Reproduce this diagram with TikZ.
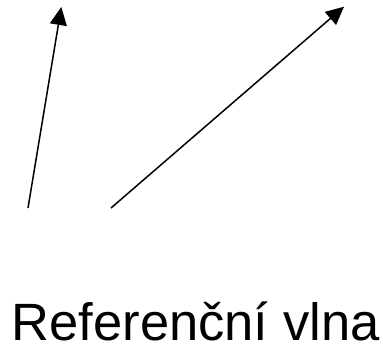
\documentclass[tikz,border=0pt]{standalone}
\usepackage{fontspec}
\setmainfont{Liberation Sans}
\usetikzlibrary{arrows.meta}
\begin{document}
\begin{tikzpicture}[x=1pt,y=-1pt,
  vec/.style={line width=1.5pt,-{Triangle[length=18pt,width=17pt]}},
  caption/.style={font=\fontsize{52.5}{60}\selectfont,inner sep=0pt,anchor=base west}]
  \useasboundingbox (0,0) rectangle (383,346);
  % first vector
  \coordinate (a0) at (28,208);
  \coordinate (a1) at (61.3,7);
  % second vector
  \coordinate (b0) at (111,208);
  \coordinate (b1) at (344,6.7);
  \draw[vec] (a0) -- (a1);
  \draw[vec] (b0) -- (b1);
  \node[caption] (lbl) at (11.6,340) {Referenční vlna};
\end{tikzpicture}
\end{document}
